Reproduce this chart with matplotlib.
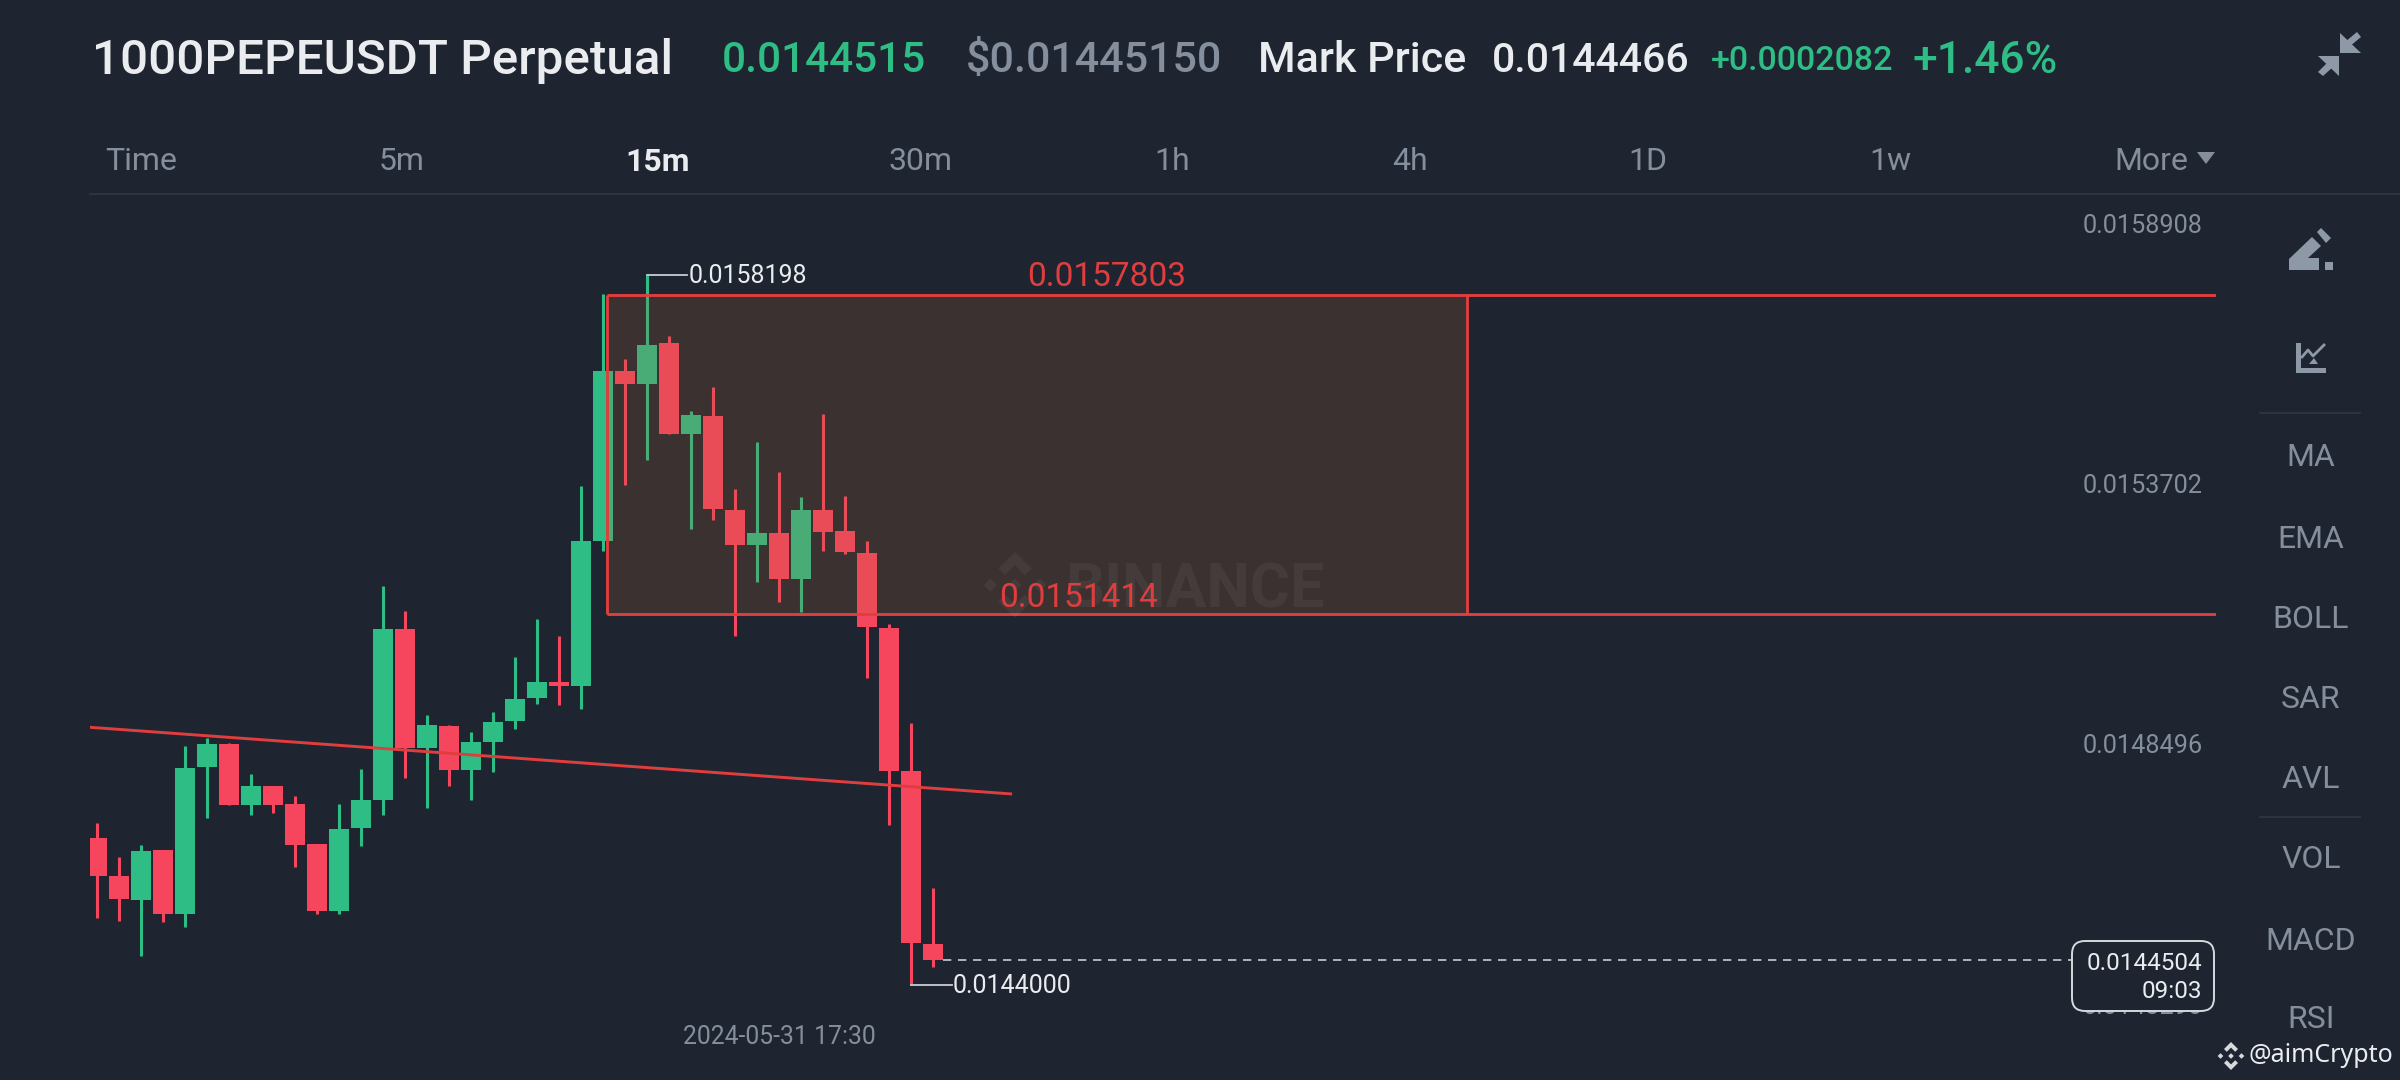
import matplotlib
matplotlib.use('Agg')
import matplotlib.pyplot as plt
from matplotlib.patches import FancyBboxPatch, Polygon, Rectangle

# CANDLES (15m, one per slot)
opens = [0.0146937, 0.0146181, 0.0145713, 0.0146697, 0.0145425, 0.0148363, 0.0148821, 0.0147607,
         0.0147979, 0.0147617, 0.0146813, 0.0145493, 0.0147137, 0.0147711, 0.0151127, 0.0148735,
         0.0149185, 0.0148295, 0.0148869, 0.0149281, 0.0149739, 0.0150070, 0.0149979, 0.0152887,
         0.0156285, 0.0156019, 0.0156836, 0.0155019, 0.0155387, 0.0153499, 0.0152805, 0.0153040,
         0.0152121, 0.0153509, 0.0153091, 0.0152652, 0.0151142, 0.0148275, 0.0144825]
closes = [0.0146191, 0.0145731, 0.0146689, 0.0145415, 0.0148343, 0.0148821, 0.0147597, 0.0147989,
          0.0147607, 0.0146813, 0.0145493, 0.0147119, 0.0147703, 0.0151127, 0.0148735, 0.0149195,
          0.0148295, 0.0148859, 0.0149261, 0.0149731, 0.0150065, 0.0149979, 0.0152887, 0.0156285,
          0.0156019, 0.0156805, 0.0155019, 0.0155397, 0.0153519, 0.0152795, 0.0153040, 0.0152121,
          0.0153509, 0.0153070, 0.0152662, 0.0151162, 0.0148275, 0.0144836, 0.0144504]
highs = [0.0147253, 0.0146555, 0.0146813, 0.0146697, 0.0148783, 0.0148945, 0.0148851, 0.0148219,
         0.0147979, 0.0147779, 0.0146813, 0.0147625, 0.0148323, 0.0151987, 0.0151481, 0.0149405,
         0.0149195, 0.0149061, 0.0149471, 0.0150571, 0.0151327, 0.0150979, 0.0153989, 0.0157815,
         0.0156519, 0.0158198, 0.0156989, 0.0155489, 0.0155968, 0.0153927, 0.0154866, 0.0154264,
         0.0153764, 0.0155417, 0.0153785, 0.0152887, 0.0151213, 0.0149244, 0.0145948]
lows = [0.0145349, 0.0145281, 0.0144583, 0.0145263, 0.0145157, 0.0147349, 0.0147597, 0.0147397,
        0.0147435, 0.0146363, 0.0145425, 0.0145425, 0.0146775, 0.0147405, 0.0148143, 0.0147539,
        0.0147979, 0.0147711, 0.0148267, 0.0149117, 0.0149625, 0.0149601, 0.0149530, 0.0152683,
        0.0154009, 0.0154509, 0.0155019, 0.0153132, 0.0153295, 0.0150989, 0.0152060, 0.0151662,
        0.0151458, 0.0152683, 0.0152621, 0.0150152, 0.0147203, 0.0144000, 0.0144356]

# DRAWINGS ON THE CHART
zone_top = 0.0157803
zone_bottom = 0.0151414
zone_start = 23.18
zone_end = 62.27
trend_x = [-0.32, 41.53]
trend_y = [0.0149157, 0.0147825]
last_price = 0.0144504
last_idx = 38
high_price = 0.0158198
high_idx = 25
low_price = 0.0144000
low_idx = 37

# LABELS
price_ticks = [0.0158908, 0.0153702, 0.0148496, 0.0143290]
tabs = ['Time', '5m', '15m', '30m', '1h', '4h', '1D', '1w']
indicators = ['MA', 'EMA', 'BOLL', 'SAR', 'AVL', 'VOL', 'MACD', 'RSI']
header = ['1000PEPEUSDT Perpetual', '0.0144515', '$0.01445150', 'Mark Price', '0.0144466', '+0.0002082', '+1.46%']

BG = '#1e2530'
GREEN = '#2ebd85'
RED = '#f6465d'
LINE = '#e03e3e'
GREY = '#848e9c'
WHITE = '#eaecef'
PLAIN = ['Roboto', 'DejaVu Sans']

fig = plt.figure(figsize=(24, 10.8), dpi=100, facecolor=BG)

# chart area, 22px per candle and 2e-6 per px
left, right, top, bottom = 90, 2216, 195, 1040
ax = fig.add_axes([left / 2400, 1 - bottom / 1080, (right - left) / 2400, (bottom - top) / 1080])
ax.set_facecolor(BG)
ax.set_xlim((left - 97) / 22, (right - 97) / 22)
ax.set_ylim(0.0163703 - bottom * 2e-6, 0.0163703 - top * 2e-6)
ax.axis('off')

for i in range(len(opens)):
    col = GREEN if closes[i] >= opens[i] else RED
    ax.vlines(i, lows[i], highs[i], color=col, lw=2.2, zorder=2)
    ax.bar(i, abs(closes[i] - opens[i]), bottom=min(opens[i], closes[i]), width=0.886, color=col, zorder=3)

# zone, fill sits over the candles
ax.add_patch(Rectangle((zone_start, zone_bottom), zone_end - zone_start, zone_top - zone_bottom,
                       facecolor='#b9663a', alpha=0.2, edgecolor='none', zorder=4))
ax.vlines([zone_start, zone_end], zone_bottom, zone_top, color=LINE, lw=2.1, zorder=5)
ax.hlines([zone_top, zone_bottom], zone_start, ax.get_xlim()[1], color=LINE, lw=2.1, zorder=5)
ax.plot(trend_x, trend_y, color=LINE, lw=2.1, zorder=5)

# last price dash and high/low callouts
ax.plot([last_idx + 0.44, ax.get_xlim()[1]], [last_price, last_price], color='#c9ccd1', lw=1.2,
        dashes=(5, 4), zorder=5)
ax.plot([high_idx, high_idx + 1.8], [high_price, high_price], color='#c9ccd1', lw=1.3, zorder=5)
ax.plot([low_idx, low_idx + 1.85], [low_price, low_price], color='#c9ccd1', lw=1.3, zorder=5)

# overlay in pixel coords for the app chrome
ui = fig.add_axes([0, 0, 1, 1], facecolor='none')
ui.set_xlim(0, 2400)
ui.set_ylim(1080, 0)
ui.axis('off')


def logo(cx, cy, r, color, alpha=1.0):
    chev = [(0, -1), (0.5, -0.5), (0.3, -0.3), (0, -0.6), (-0.3, -0.3), (-0.5, -0.5)]
    dia = [(0, -0.2), (0.2, 0), (0, 0.2), (-0.2, 0)]
    shapes = [chev, [(x, -y) for x, y in chev], dia,
              [(x - 0.75, y) for x, y in dia], [(x + 0.75, y) for x, y in dia]]
    for s in shapes:
        ui.add_patch(Polygon([(cx + x * r, cy + y * r) for x, y in s], closed=True, facecolor=color,
                             edgecolor='none', alpha=alpha))


# watermark
logo(1015, 585, 33, 'white', 0.05)
ui.text(1065, 590, 'BINANCE', color='white', alpha=0.05, fontsize=44, fontweight='bold', family=PLAIN, va='center')

# header, no condensed font here so sizes are fitted to the widths
header_x = [92, 722, 966, 1258, 1492, 1711, 1913]
header_col = [WHITE, GREEN, GREY, WHITE, WHITE, GREEN, GREEN]
header_size = [35.6, 30.5, 31, 31, 29.5, 24.4, 31.9]
for txt, x, col, size in zip(header, header_x, header_col, header_size):
    ui.text(x, 61, txt, color=col, fontsize=size, fontweight='medium', family=PLAIN, va='center', ha='left')

# tabs
tab_x = [141, 402, 658, 921, 1172, 1410, 1648, 1890]
for t, x in zip(tabs, tab_x):
    if t == '15m':
        ui.text(x, 162, t, color=WHITE, fontsize=23, fontweight='bold', family=PLAIN, ha='center', va='center')
    else:
        ui.text(x, 162, t, color=GREY, fontsize=23, family=PLAIN, ha='center', va='center')
ui.text(2114, 162, 'More', color=GREY, fontsize=23, family=PLAIN, va='center')
ui.add_patch(Polygon([(2197, 152), (2215, 152), (2206, 164)], closed=True, facecolor=GREY, edgecolor='none'))
ui.plot([90, 2400], [194, 194], color='#323842', lw=1.2)

# price axis labels, they sit 14px above their level
for p in price_ticks:
    y = (0.0163703 - p) / 2e-6 - 14
    ui.text(2203, y, '%.7f' % p, color=GREY, fontsize=18.2, family=PLAIN, ha='right', va='center')

# right column
indicator_y = [458, 539, 620, 699, 780, 860, 941, 1020]
for t, y in zip(indicators, indicator_y):
    ui.text(2311, y, t, color=GREY, fontsize=23, family=PLAIN, ha='center', va='center')
ui.plot([2260, 2360], [413, 413], color='#323842', lw=1.2)
ui.plot([2260, 2360], [817, 817], color='#323842', lw=1.2)

# drawing labels
ui.text(1027, 277, '%.7f' % zone_top, color=LINE, fontsize=24, family=PLAIN, va='center')
ui.text(999, 598, '%.7f' % zone_bottom, color=LINE, fontsize=24, family=PLAIN, va='center')
ui.text(689, 276, '%.7f' % high_price, color=WHITE, fontsize=18, family=PLAIN, va='center')
ui.text(953, 986, '%.7f' % low_price, color=WHITE, fontsize=18, family=PLAIN, va='center')
ui.text(683, 1037, '2024-05-31 17:30', color=GREY, fontsize=17.8, family=PLAIN, va='center')

# last price box
ui.add_patch(FancyBboxPatch((2072, 941), 142, 70, boxstyle='round,pad=0,rounding_size=13', facecolor=BG,
                            edgecolor='#d5d8dc', lw=1.4, zorder=5))
ui.text(2202, 963, '%.7f' % last_price, color=WHITE, fontsize=17.5, family=PLAIN, ha='right', va='center', zorder=6)
ui.text(2202, 992, '09:03', color=WHITE, fontsize=17.5, family=PLAIN, ha='right', va='center', zorder=6)

# credit
logo(2231, 1056, 14, '#d8dadd')
ui.text(2248, 1056, '@aimCrypto', color=WHITE, fontsize=18, family=['Noto Sans', 'DejaVu Sans'], va='center')

# icons
ICON = '#8e99a8'
shrink = [[(2340, 33), (2340, 53), (2361, 53)], [(2339, 56), (2339, 76), (2318, 56)],
          [(2357, 32), (2361, 37), (2349, 47), (2345, 42)], [(2318, 72), (2323, 76), (2333, 67), (2328, 62)]]
pencil = [[(2289, 270), (2289, 259), (2312, 237), (2321, 246), (2308, 258), (2319, 258), (2319, 270)],
          [(2317, 232), (2321, 228), (2331, 238), (2326, 243)], [(2325, 262), (2333, 262), (2333, 270), (2325, 270)]]
chart = [[(2296, 343), (2301, 343), (2301, 368), (2326, 368), (2326, 373), (2296, 373)],
         [(2309, 364), (2314, 358), (2318, 364)]]
for s in shrink + pencil + chart:
    ui.add_patch(Polygon(s, closed=True, facecolor=ICON, edgecolor='none'))
ui.plot([2302, 2308, 2313, 2324], [357, 350, 356, 345], color=ICON, lw=2)

fig.savefig('out.png', dpi=100, facecolor=BG)
